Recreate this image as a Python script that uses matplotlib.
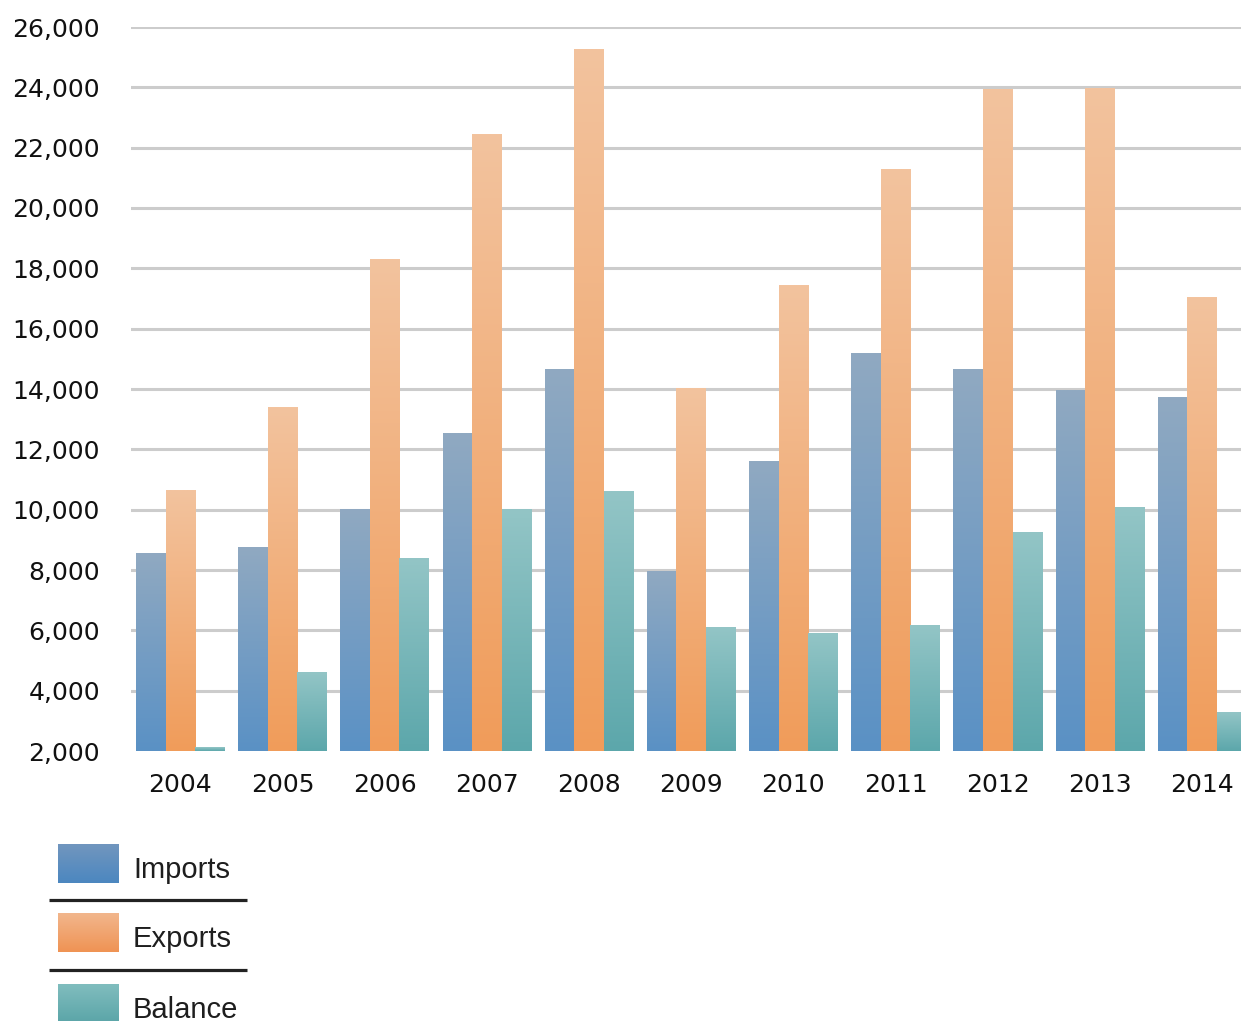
import numpy as np
import matplotlib
matplotlib.use("Agg")
import matplotlib.pyplot as plt
from matplotlib.colors import LinearSegmentedColormap
from matplotlib.ticker import FuncFormatter

years = ["2004", "2005", "2006", "2007", "2008", "2009", "2010", "2011", "2012", "2013", "2014"]
imports = [8540, 8740, 10000, 12520, 14650, 7940, 11590, 15180, 14650, 13950, 13720]
exports = [10630, 13390, 18300, 22450, 25240, 14020, 17440, 21290, 23940, 23970, 17040]
balance = [2100, 4590, 8370, 10000, 10600, 6080, 5880, 6150, 9240, 10070, 3290]
series_names = ["Imports", "Exports", "Balance"]
y_ticks = list(range(2000, 26001, 2000))

# gradient colours (top, bottom)
grads = [("#90A9C1", "#5A91C5"), ("#F3C39E", "#F09C5A"), ("#93C5C6", "#5CA7AB")]
legend_grads = [("#7196BE", "#4C87C0"), ("#F2B68C", "#EF9354"), ("#80BDBE", "#5BA5A8")]

W, H = 1241, 1021
fig = plt.figure(figsize=(W / 100, H / 100), dpi=100)
ax = fig.add_axes([130.5 / W, (H - 751) / H, (W - 130.5) / W, (751 - 27) / H])

x = np.arange(len(years))
bw = 0.289
all_series = [imports, exports, balance]
for i, (vals, (ctop, cbot)) in enumerate(zip(all_series, grads)):
    offs = (i - 1) * bw
    bars = ax.bar(x + offs, np.array(vals) - 2000, width=bw, bottom=2000,
                  color="none", edgecolor="none", zorder=2, label=series_names[i])
    cmap = LinearSegmentedColormap.from_list("g%d" % i, [cbot, ctop])
    grad = np.linspace(0, 1, 256).reshape(-1, 1)
    for b in bars:
        x0, y0 = b.get_x(), b.get_y()
        ax.imshow(grad, cmap=cmap, extent=[x0, x0 + b.get_width(), y0, y0 + b.get_height()],
                  origin="lower", aspect="auto", zorder=2, interpolation="bilinear")

ax.set_xlim(-0.487, 10.38)
ax.set_ylim(2000, 26000)
ax.set_yticks(y_ticks)
ax.yaxis.set_major_formatter(FuncFormatter(lambda v, p: f"{int(v):,}"))
ax.set_xticks(x)
ax.set_xticklabels(years)
for s in ax.spines.values():
    s.set_visible(False)
ax.tick_params(axis="y", length=0, pad=22, labelsize=18, labelcolor="#111111")
ax.tick_params(axis="x", length=0, pad=16, labelsize=18, labelcolor="#111111")
for lab in ax.get_xticklabels() + ax.get_yticklabels():
    lab.set_family("DejaVu Sans")
ax.set_axisbelow(True)
ax.yaxis.grid(True, color="#CCCCCC", linewidth=2.2)
ax.xaxis.grid(False)
ax.get_ygridlines()[0].set_visible(False)

# custom legend in pixel-like coordinates
lax = fig.add_axes([0, 0, 300 / W, 200 / H])
lax.axis("off")
patch_tops = [844, 913, 984]
for i, name in enumerate(series_names):
    ctop, cbot = legend_grads[i]
    cm = LinearSegmentedColormap.from_list("l%d" % i, [cbot, ctop])
    t = patch_tops[i]
    lax.imshow(np.linspace(0, 1, 64).reshape(-1, 1), cmap=cm, origin="lower",
               extent=[58, 119, t + 39, t], aspect="auto")
    lax.text(133, t + 26, name, fontsize=21, family="Liberation Sans",
             color="#1E1E1E", va="center", ha="left")
for ly in [900, 970]:
    lax.plot([49, 247], [ly, ly], color="#222222", linewidth=2.3, solid_capstyle="butt")
lax.set_xlim(0, 300)
lax.set_ylim(H, H - 200)

fig.savefig("out.png", dpi=100)
